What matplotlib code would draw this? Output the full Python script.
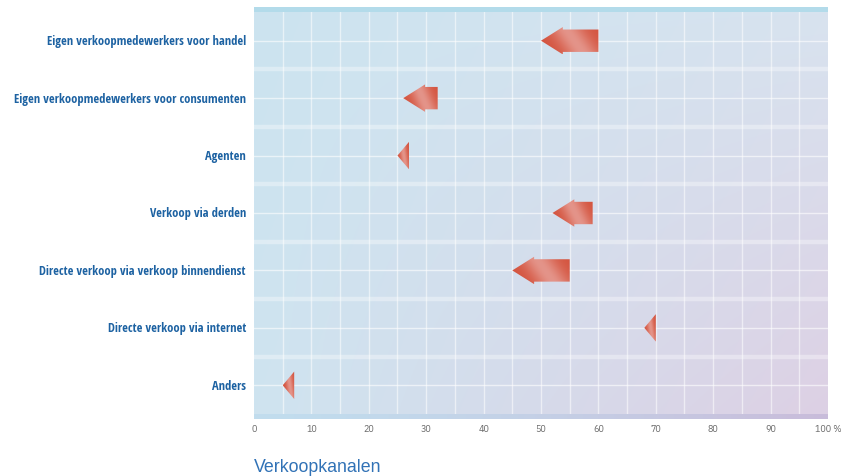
import numpy as np
import matplotlib
matplotlib.use("Agg")
import matplotlib.pyplot as plt
from matplotlib.patches import Polygon, Rectangle
from matplotlib.colors import to_rgb

# Sales channels, top to bottom
categories = [
    "Eigen verkoopmedewerkers voor handel",
    "Eigen verkoopmedewerkers voor consumenten",
    "Agenten",
    "Verkoop via derden",
    "Directe verkoop via verkoop binnendienst",
    "Directe verkoop via internet",
    "Anders",
]
# arrow runs from the earlier share (tail) to the newer share (tip), in %
start_values = [60, 32, 27, 59, 55, 70, 7]
end_values = [50, 26, 25, 52, 45, 68, 5]

tick_values = [0, 10, 20, 30, 40, 50, 60, 70, 80, 90, 100]
tick_labels = ["0", "10", "20", "30", "40", "50", "60", "70", "80", "90", "100 %"]
title_text = "Verkoopkanalen"

W, H = 852, 477
fig = plt.figure(figsize=(W / 100, H / 100), dpi=100)
fig.patch.set_facecolor("white")

left, right = 254, 828
top, bottom = 13, 415
ax = fig.add_axes([left / W, 1 - bottom / H, (right - left) / W, (bottom - top) / H])
n = len(categories)
ax.set_xlim(0, 100)
ax.set_ylim(0, n)
for s in ax.spines.values():
    s.set_visible(False)

# background: bilinear blend between four corner colours
tl = np.array(to_rgb("#cce4f0"))
tr = np.array(to_rgb("#d8e3ef"))
bl = np.array(to_rgb("#cfe4f0"))
br = np.array(to_rgb("#ddd0e4"))
gx, gy = np.meshgrid(np.linspace(0, 1, 300), np.linspace(0, 1, 200))
gx3, gy3 = gx[..., None], gy[..., None]
bg = (tl * (1 - gx3) * (1 - gy3) + tr * gx3 * (1 - gy3)
      + bl * (1 - gx3) * gy3 + br * gx3 * gy3)
ax.imshow(bg, extent=(0, 100, 0, n), origin="upper", aspect="auto", zorder=0)

# vertical grid every 5 %
for x in range(5, 100, 5):
    ax.axvline(x, color="white", lw=1.0, alpha=0.55, zorder=1)
# row centre lines and row separators
for i in range(n):
    ax.axhline(i + 0.5, color="white", lw=1.0, alpha=0.6, zorder=1)
for i in range(1, n):
    ax.axhline(i, color="white", lw=3.2, alpha=0.35, zorder=1)

# top and bottom bands
strip_h = 5 / (bottom - top) * n
ax.add_patch(Rectangle((0, n), 100, strip_h, color="#b3dbea", clip_on=False, zorder=2, lw=0))
sb = np.linspace(0, 1, 300)[None, :] ** 1.3
c0 = np.array(to_rgb("#c1ddee"))
c1 = np.array(to_rgb("#c9bcda"))
strip = c0[None, None, :] * (1 - sb[..., None]) + c1[None, None, :] * sb[..., None]
im = ax.imshow(strip, extent=(0, 100, -strip_h, 0), aspect="auto", zorder=2)
im.set_clip_on(False)

# arrows with a glossy gradient fill
row_px = (bottom - top) / n
head_half = 13.7 / row_px
shaft_half = 11.2 / row_px
head_len_full = 3.8
dark = np.array(to_rgb("#d4543f"))
light = np.array(to_rgb("#e8a49c"))

for i, (s, e) in enumerate(zip(start_values, end_values)):
    yc = n - i - 0.5
    length = s - e
    hl = min(head_len_full, length)
    if hl < length:
        pts = [(e, yc), (e + hl, yc + head_half), (e + hl, yc + shaft_half),
               (s, yc + shaft_half), (s, yc - shaft_half), (e + hl, yc - shaft_half),
               (e + hl, yc - head_half)]
    else:
        pts = [(e, yc), (s, yc + head_half), (s, yc - head_half)]
    poly = Polygon(pts, closed=True, facecolor="none", edgecolor="none", zorder=3)
    ax.add_patch(poly)
    u, v = np.meshgrid(np.linspace(0, 1, 120), np.linspace(0, 1, 40))
    d = 0.75 * u + 0.25 * (1 - v)
    w = np.exp(-((d - 0.55) / 0.22) ** 2) * 0.8
    img = dark[None, None, :] * (1 - w[..., None]) + light[None, None, :] * w[..., None]
    aim = ax.imshow(img, extent=(e, s, yc - head_half, yc + head_half),
                    aspect="auto", zorder=3, interpolation="bilinear")
    aim.set_clip_path(poly)

ax.set_xlim(0, 100)
ax.set_ylim(0, n)

# category labels
for i, lab in enumerate(categories):
    yc = n - i - 0.5
    ax.text(-1.4, yc, lab, ha="right", va="center", fontsize=9.0, fontweight="bold",
            color="#1d62a2", family=["Open Sans Condensed", "DejaVu Sans"])

# x tick labels
ax.set_xticks([])
ax.set_yticks([])
for v, lab in zip(tick_values, tick_labels):
    ax.text(v, -0.26, lab, ha="center", va="center", fontsize=7.2,
            color="#6a6a6a", family=["IBM Plex Sans Condensed", "DejaVu Sans"],
            fontweight="normal")

fig.text(left / W, 1 - 468 / H, title_text, ha="left", va="center",
         fontsize=12.8, color="#3172b6", family=["Liberation Sans", "DejaVu Sans"])

fig.savefig("out.png", dpi=100)
